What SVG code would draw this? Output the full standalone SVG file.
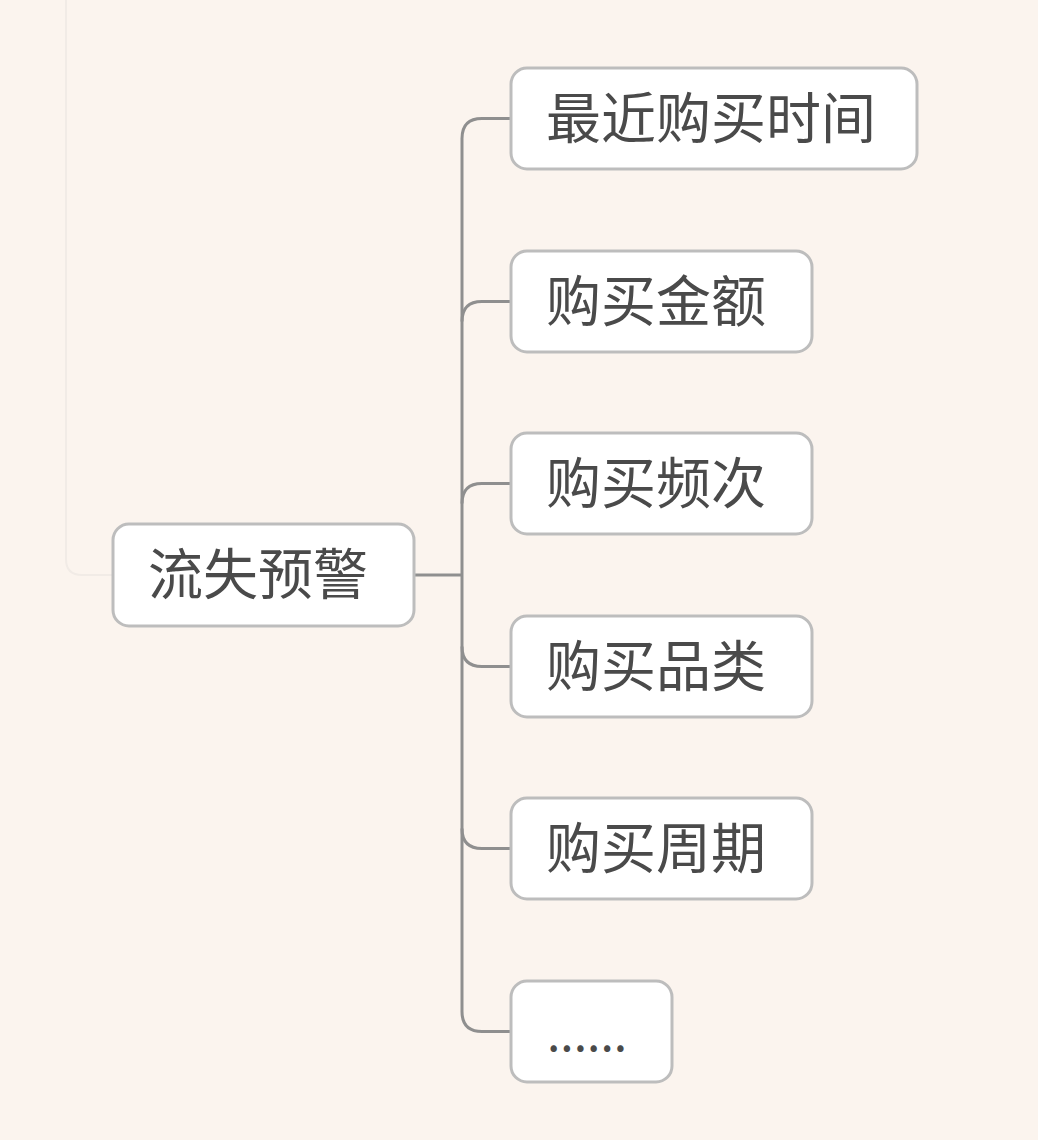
<svg xmlns="http://www.w3.org/2000/svg" width="1038" height="1140" viewBox="0 0 1038 1140">
<style>
.node rect{fill:#ffffff;stroke:#bdbdbd;stroke-width:3}
.node text{font-family:"Noto Sans CJK SC","Noto Sans",sans-serif;font-size:55px;fill:#4a4a4a}
.conn path{fill:none;stroke:#8f8f8f;stroke-width:3}
</style>
<rect x="0" y="0" width="1038" height="1140" fill="#fbf4ee"/>
<path d="M66 -10 V559 Q66 575 82 575 H120" fill="none" stroke="#f1ebe6" stroke-width="2"/>
<g class="conn" id="connectors">
<path d="M414 575 H462"/>
<path d="M511 118.5 H482 Q462 118.5 462 138.5 V1011.5 Q462 1031.5 482 1031.5 H511"/>
<path d="M511 301.5 H482 Q462 301.5 462 321.5"/>
<path d="M511 483.5 H482 Q462 483.5 462 503.5"/>
<path d="M511 666.5 H482 Q462 666.5 462 646.5"/>
<path d="M511 848.5 H482 Q462 848.5 462 828.5"/>
</g>
<g class="node" id="root"><rect x="113" y="524" width="301" height="102" rx="16"/><text x="148" y="594">流失预警</text></g>
<g class="node" id="n1"><rect x="511" y="68" width="406" height="101" rx="16"/><text x="546" y="137.5">最近购买时间</text></g>
<g class="node" id="n2"><rect x="511" y="251" width="301" height="101" rx="16"/><text x="546" y="320.5">购买金额</text></g>
<g class="node" id="n3"><rect x="511" y="433" width="301" height="101" rx="16"/><text x="546" y="502.5">购买频次</text></g>
<g class="node" id="n4"><rect x="511" y="616" width="301" height="101" rx="16"/><text x="546" y="685.5">购买品类</text></g>
<g class="node" id="n5"><rect x="511" y="798" width="301" height="101" rx="16"/><text x="546" y="867.5">购买周期</text></g>
<g class="node" id="n6"><rect x="511" y="981" width="161" height="101" rx="16"/><text x="547" y="1050.5" style="font-size:48px">......</text></g>
</svg>
